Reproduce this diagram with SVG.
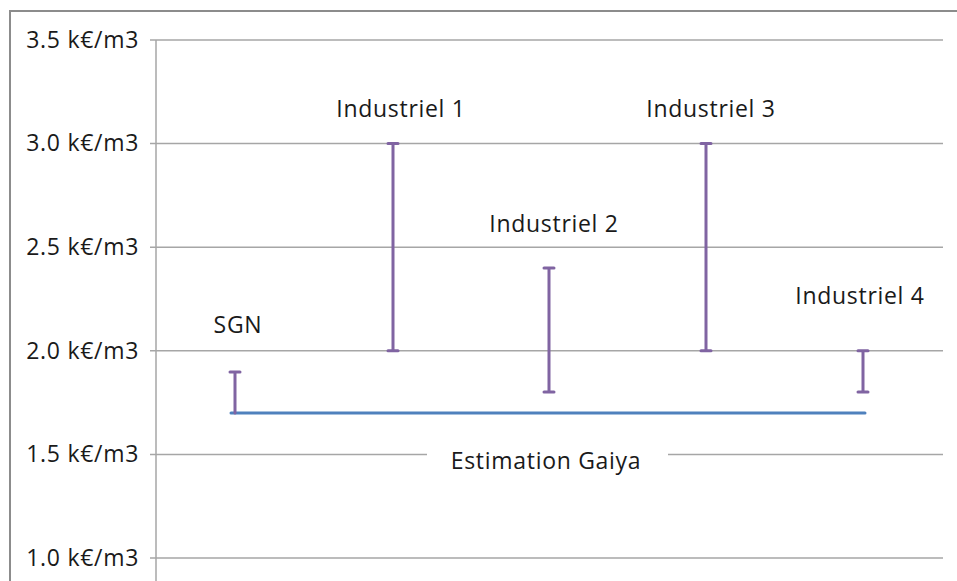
<svg xmlns="http://www.w3.org/2000/svg" width="957" height="581" viewBox="0 0 957 581">
<style>
.grid{stroke:#a6a6a6;stroke-width:1.5;fill:none}
.bar{stroke:#8064a2;stroke-width:3;fill:none;stroke-linecap:round}
.lbl{font-family:"Open Sans","DejaVu Sans",sans-serif;font-size:23px;fill:#1a1a1a;letter-spacing:0.7px}
.ax{text-anchor:end}
.c{text-anchor:middle}
</style>
<rect x="0" y="0" width="957" height="581" fill="#ffffff"/>
<rect x="10" y="11" width="960" height="600" fill="none" stroke="#8c8c8c" stroke-width="2"/>
<g id="axes">
<line class="grid" x1="156" y1="40" x2="156" y2="581"/>
<line class="grid" x1="150" y1="40" x2="943" y2="40"/>
<line class="grid" x1="150" y1="143.6" x2="943" y2="143.6"/>
<line class="grid" x1="150" y1="247.2" x2="943" y2="247.2"/>
<line class="grid" x1="150" y1="350.8" x2="943" y2="350.8"/>
<line class="grid" x1="150" y1="454.4" x2="427" y2="454.4"/>
<line class="grid" x1="668" y1="454.4" x2="943" y2="454.4"/>
<line class="grid" x1="150" y1="558" x2="943" y2="558"/>
<text class="lbl ax" x="139" y="48">3.5 k€/m3</text>
<text class="lbl ax" x="139" y="151">3.0 k€/m3</text>
<text class="lbl ax" x="139" y="255">2.5 k€/m3</text>
<text class="lbl ax" x="139" y="359">2.0 k€/m3</text>
<text class="lbl ax" x="139" y="462">1.5 k€/m3</text>
<text class="lbl ax" x="139" y="566">1.0 k€/m3</text>
</g>
<g id="connectors">
<line x1="231" y1="413" x2="865" y2="413" stroke="#4f81bd" stroke-width="3" stroke-linecap="round"/>
</g>
<g id="sgn">
<path class="bar" d="M235 372V413M230 372H240"/>
<text class="lbl c" x="238" y="333">SGN</text>
</g>
<g id="ind1">
<path class="bar" d="M393 143.6V350.8M388 143.6H398M388 350.8H398"/>
<text class="lbl c" x="401" y="117">Industriel 1</text>
</g>
<g id="ind2">
<path class="bar" d="M549 268V392M544 268H554M544 392H554"/>
<text class="lbl c" x="554" y="232">Industriel 2</text>
</g>
<g id="ind3">
<path class="bar" d="M706 143.6V350.8M701 143.6H711M701 350.8H711"/>
<text class="lbl c" x="711" y="117">Industriel 3</text>
</g>
<g id="ind4">
<path class="bar" d="M863 350.8V392M858 350.8H868M858 392H868"/>
<text class="lbl c" x="860" y="304">Industriel 4</text>
</g>
<g id="estimation">
<text class="lbl c" x="546" y="469">Estimation Gaiya</text>
</g>
</svg>
